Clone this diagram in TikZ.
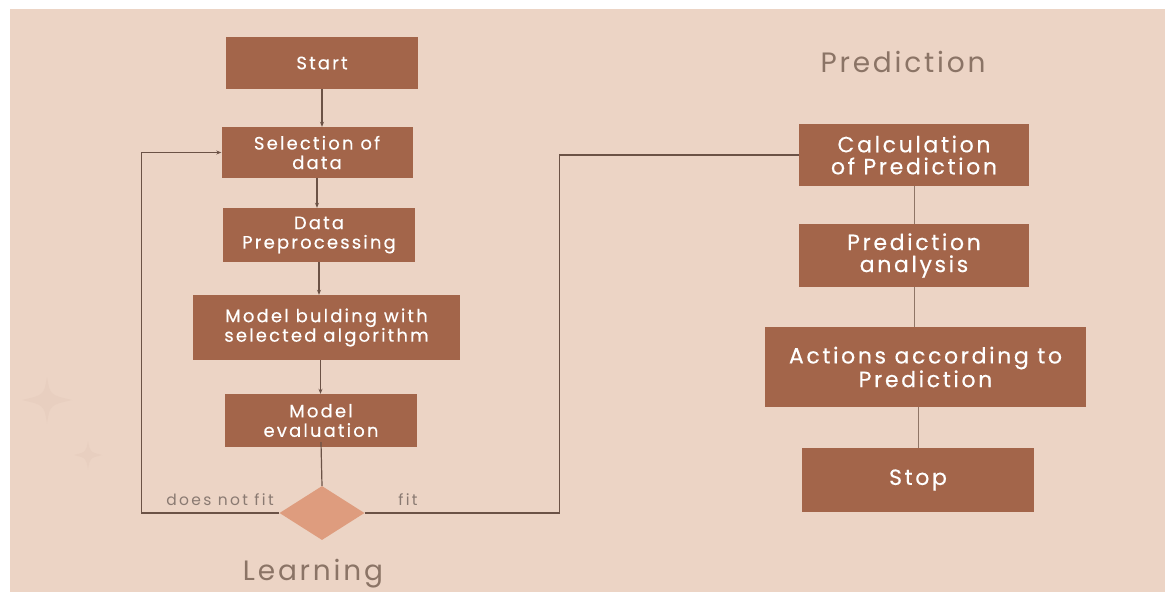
\documentclass[tikz,border=0pt]{standalone}
\usepackage{fontspec}
\setmainfont{Poppins}[LetterSpace=6]
\newfontfamily\boxfont{Poppins}[LetterSpace=12, FakeBold=0.4]
\newfontfamily\titlefont{Poppins}[LetterSpace=10]
\newfontfamily\lblfont{Poppins}[LetterSpace=15]
\usetikzlibrary{shapes.geometric,arrows.meta}
\definecolor{bgc}{HTML}{ECD4C5}
\definecolor{boxc}{HTML}{A3654A}
\definecolor{diac}{HTML}{DE9C7E}
\definecolor{linec}{HTML}{6B5246}
\definecolor{linec2}{HTML}{8F7566}
\definecolor{titlec}{HTML}{8B7466}
\definecolor{lblc}{HTML}{8A7A72}
\definecolor{sparkc}{HTML}{E8CFC0}
\tikzset{
  stepbox/.style={fill=boxc, text=white, inner sep=0pt, align=center,
    font=\boxfont\fontsize{22}{22}\selectfont},
  stepboxl/.style={stepbox, font=\boxfont\fontsize{18}{19.5}\selectfont},
  arr/.style={draw=linec, line width=1.2pt, -{Stealth[length=5pt,width=4pt]}},
  plainline/.style={draw=linec, line width=1.2pt},
  rline/.style={draw=linec2, line width=1pt},
  title/.style={text=titlec, font=\titlefont\fontsize{28}{30}\selectfont},
  lbl/.style={text=lblc, font=\lblfont\fontsize{15.5}{16}\selectfont},
}
\begin{document}
\begin{tikzpicture}[x=1pt,y=-1pt]
\useasboundingbox (0,0) rectangle (1165,592);
\fill[white] (0,0) rectangle (1165,592);
\fill[bgc] (10,9) rectangle (1165,592);
% faint sparkles
\fill[sparkc] (47,377) .. controls (50,395) .. (72,400) .. controls (50,405) .. (47,423) .. controls (44,405) .. (22,400) .. controls (44,395) .. (47,377) -- cycle;
\fill[sparkc] (88,441) .. controls (90,452) .. (102,455) .. controls (90,458) .. (88,469) .. controls (86,458) .. (74,455) .. controls (86,452) .. (88,441) -- cycle;

% left column
\node[stepboxl, minimum width=192pt, minimum height=52pt] (start) at (322,63) {Start};
\node[stepboxl, minimum width=191pt, minimum height=51pt] (sel) at (317,152.5) {Selection of\\data};
\node[stepboxl, minimum width=192pt, minimum height=54pt] (pre) at (319,235) {Data\\Preprocessing};
\node[stepboxl, minimum width=267pt, minimum height=65pt] (mb) at (326.5,327.5) {Model bulding with\\selected algorithm};
\node[stepboxl, minimum width=192pt, minimum height=53pt] (ev) at (321,420.5) {Model\\evaluation};
\node[diamond, fill=diac, inner sep=0pt, minimum width=85pt, minimum height=54pt] (dia) at (322,513) {};

% right column
\node[title] (ptitle) at (903,62) {Prediction};
\node[stepbox, minimum width=230pt, minimum height=62pt] (calc) at (914,155) {Calculation\\of Prediction};
\node[stepbox, minimum width=230pt, minimum height=63pt] (pa) at (914,255.5) {Prediction\\analysis};
\node[stepbox, minimum width=321pt, minimum height=80pt] (act) at (925.5,367) {Actions according to\\Prediction};
\node[stepbox, minimum width=232pt, minimum height=64pt] (stop) at (918,480) {Stop};

\node[title] (ltitle) at (313,574) {Learning};
\node[lbl] (nfit) at (220,500) {does not fit};
\node[lbl] (fit) at (408,500) {fit};

% connectors left
\draw[arr] (start.south) -- (start.south |- sel.north);
\draw[arr] (sel.south) -- (sel.south |- pre.north);
\draw[arr] (pre.south) -- (pre.south |- mb.north);
\draw[arr] ([xshift=-6pt]mb.south) -- ([xshift=-6pt]mb.south |- ev.north);
\draw[plainline] ([yshift=5pt]ev.south) -- (dia.north);
\draw[arr] (dia.west) -- ++(-138,0) |- (sel.west);
\draw[plainline] (dia.east) -- ++(195,0) |- (calc.west);

% connectors right
\draw[rline] (calc.south) -- (pa.north);
\draw[rline] (pa.south) -- (pa.south |- act.north);
\draw[rline] (act.south -| stop.north) -- (stop.north);
\end{tikzpicture}
\end{document}
